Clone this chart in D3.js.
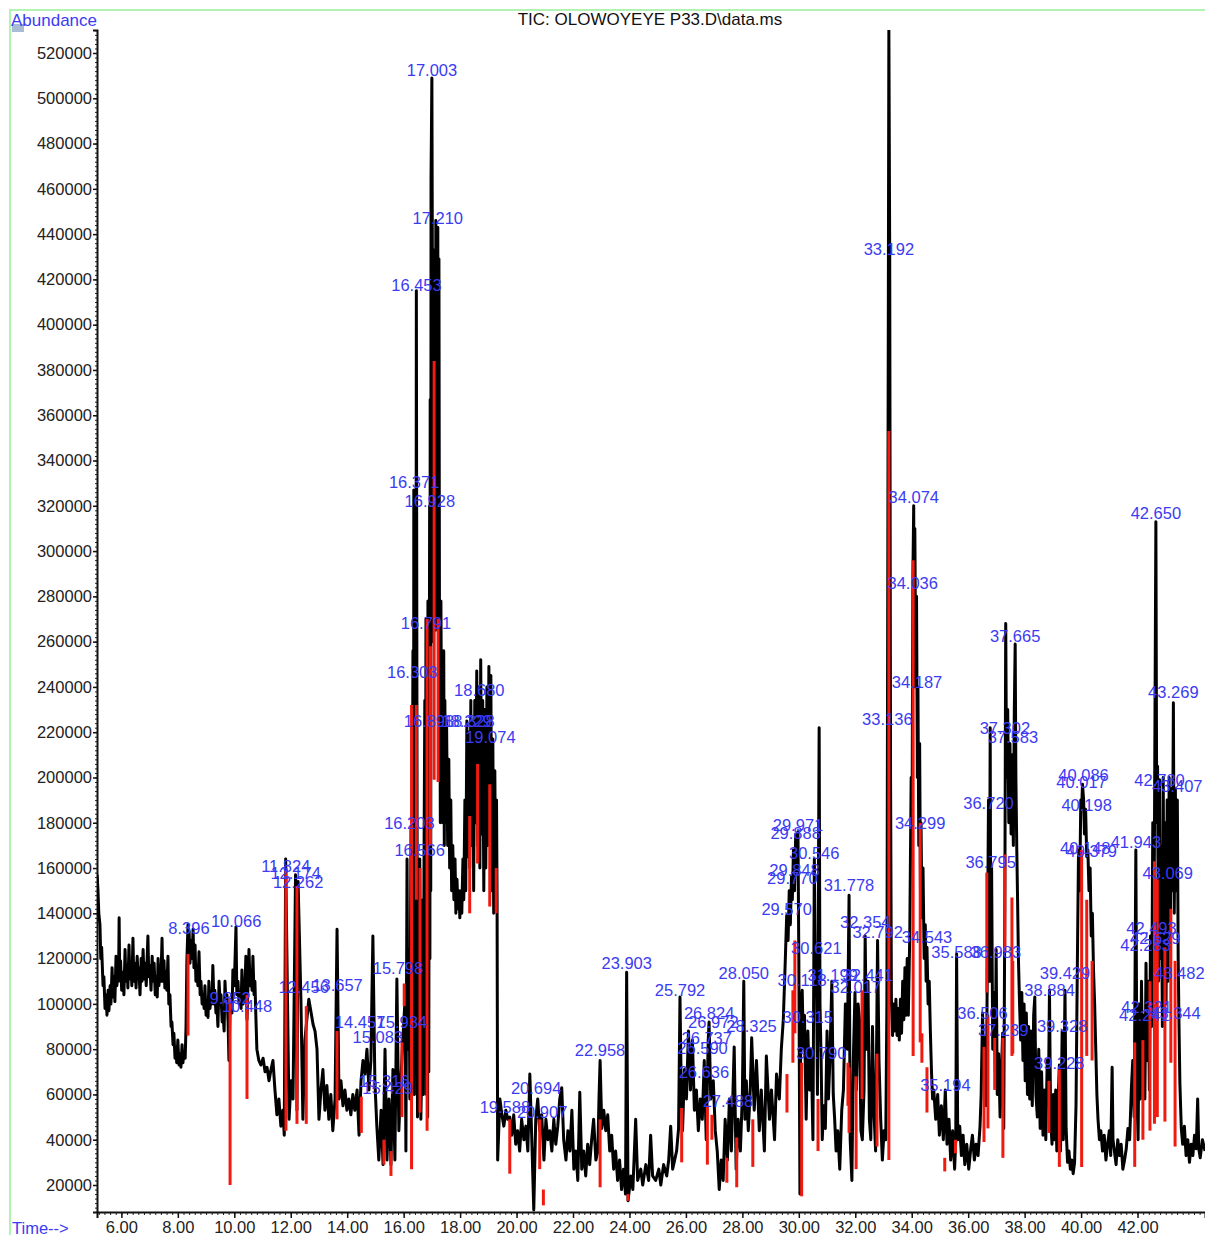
<!DOCTYPE html>
<html>
<head>
<meta charset="utf-8">
<script src="https://cdn.jsdelivr.net/npm/d3@7"></script>
<style>
  body { margin: 0; background: #fff; }
  svg { display: block; font-family: "Liberation Sans", Arial, sans-serif; }
</style>
</head>
<body>
<svg id="chart" width="1205" height="1235"></svg>
<script>
const chartTitle = "TIC: OLOWOYEYE P33.D\\data.ms";
const yAxisLabel = "Abundance";
const xAxisLabel = "Time-->";

const xTickValues = [6, 8, 10, 12, 14, 16, 18, 20, 22, 24, 26, 28, 30, 32, 34, 36, 38, 40, 42];
const yTickValues = [20000, 40000, 60000, 80000, 100000, 120000, 140000, 160000, 180000, 200000,
  220000, 240000, 260000, 280000, 300000, 320000, 340000, 360000, 380000, 400000,
  420000, 440000, 460000, 480000, 500000, 520000];

// TIC trace: [time (min), abundance / 1000]
const tic05to11 = [
  [5.14,157],[5.17,150],[5.20,140],[5.24,135],[5.27,120],[5.30,125],[5.35,108],[5.38,112],[5.42,98],[5.45,104],
  [5.49,95],[5.53,106],[5.56,97],[5.60,108],[5.63,100],[5.67,116],[5.70,103],[5.74,112],[5.77,101],[5.81,121],
  [5.84,108],[5.88,116],[5.90,110],[5.92,138],[5.94,112],[5.97,119],[6.01,106],[6.06,114],[6.09,104],[6.13,124],
  [6.16,110],[6.20,117],[6.23,107],[6.27,126],[6.30,111],[6.34,118],[6.37,108],[6.41,129],[6.44,110],[6.48,118],
  [6.52,107],[6.56,121],[6.59,112],[6.62,116],[6.66,104],[6.70,120],[6.73,110],[6.77,124],[6.80,111],[6.84,118],
  [6.88,108],[6.94,130],[6.97,112],[7.01,117],[7.05,106],[7.09,121],[7.12,110],[7.16,118],[7.20,104],[7.23,112],
  [7.27,103],[7.30,120],[7.33,108],[7.37,116],[7.40,110],[7.44,129],[7.47,110],[7.51,119],[7.54,107],[7.58,114],
  [7.61,106],[7.65,121],[7.68,100],[7.72,104],[7.76,90],[7.79,92],[7.83,82],[7.86,87],[7.90,76],[7.93,80],
  [7.96,74],[8.00,84],[8.04,73],[8.08,78],[8.11,72],[8.15,82],[8.18,74],[8.22,79],[8.26,76],[8.29,90],
  [8.32,119],[8.36,135],[8.38,120],[8.40,132],[8.43,118],[8.46,128],[8.50,120],[8.54,133],[8.57,116],[8.61,126],
  [8.64,110],[8.68,116],[8.71,108],[8.75,123],[8.79,104],[8.82,110],[8.86,100],[8.89,104],[8.93,98],[8.96,108],
  [9.00,95],[9.03,100],[9.07,94],[9.10,110],[9.14,98],[9.17,103],[9.21,100],[9.24,117],[9.28,100],[9.31,106],
  [9.35,96],[9.39,98],[9.42,90],[9.46,110],[9.50,100],[9.53,104],[9.57,92],[9.60,96],[9.64,88],[9.67,110],
  [9.71,99],[9.74,104],[9.78,92],[9.81,75],[9.85,98],[9.88,102],[9.92,96],[9.95,115],[10.00,108],[10.06,134],
  [10.09,104],[10.13,110],[10.17,100],[10.20,104],[10.24,98],[10.27,115],[10.31,100],[10.34,102],[10.38,108],[10.41,121],
  [10.45,93],[10.49,110],[10.52,124],[10.56,108],[10.59,115],[10.63,106],[10.66,121],[10.70,104],[10.73,110],[10.77,92],
  [10.80,80]
];

const tic11to16 = [
  [10.87,75],[10.94,73],[11.02,76],[11.09,70],[11.16,72],[11.23,66],[11.30,71],[11.37,75],[11.44,62],[11.51,51],
  [11.58,58],[11.65,46],[11.72,53],[11.77,42],[11.82,164],[11.94,49],[12.01,66],[12.08,58],[12.17,157],[12.22,53],
  [12.26,154],[12.36,102],[12.43,49],[12.50,84],[12.57,93],[12.64,102],[12.71,97],[12.79,91],[12.86,88],[12.93,80],
  [13.00,49],[13.07,62],[13.14,71],[13.21,53],[13.28,64],[13.35,49],[13.42,60],[13.49,44],[13.57,58],[13.64,133],
  [13.71,58],[13.78,66],[13.85,55],[13.92,62],[13.99,53],[14.06,58],[14.13,51],[14.20,60],[14.27,53],[14.35,62],
  [14.42,42],[14.49,66],[14.56,75],[14.63,69],[14.70,80],[14.77,62],[14.84,75],[14.91,130],[14.98,66],[15.05,46],
  [15.12,31],[15.20,53],[15.27,29],[15.34,80],[15.41,31],[15.48,58],[15.55,29],[15.62,71],[15.69,31],[15.76,111],
  [15.83,44],[15.90,66],[15.97,84]
];

const tic16to20 = [
  [16.05,102],[16.08,35],[16.12,164],[16.15,80],[16.19,124],[16.22,58],[16.26,177],[16.29,119],[16.33,256],[16.35,80],
  [16.36,327],[16.38,60],[16.40,234],[16.43,90],[16.45,415],[16.47,234],[16.49,50],[16.52,146],[16.54,102],[16.57,164],
  [16.61,49],[16.65,80],[16.68,146],[16.70,60],[16.72,159],[16.75,234],[16.77,90],[16.79,270],[16.81,60],[16.83,225],
  [16.85,50],[16.86,278],[16.89,70],[16.92,320],[16.93,120],[16.94,367],[16.96,150],[16.97,464],[17.00,509],[17.03,367],
  [17.05,260],[17.07,433],[17.09,270],[17.11,411],[17.13,265],[17.14,446],[17.16,270],[17.18,437],[17.20,280],[17.21,443],
  [17.23,270],[17.25,429],[17.27,260],[17.28,252],[17.30,180],[17.32,278],[17.35,200],[17.37,234],[17.39,180],[17.42,256],
  [17.44,170],[17.46,234],[17.49,180],[17.52,225],[17.56,170],[17.60,208],[17.63,160],[17.67,190],[17.70,150],[17.74,170],
  [17.78,146],[17.82,164],[17.85,140],[17.89,155],[17.92,142],[17.96,150],[17.99,138],[18.03,150],[18.06,140],[18.10,164],
  [18.13,146],[18.17,190],[18.20,150],[18.24,225],[18.27,165],[18.31,220],[18.34,160],[18.38,234],[18.41,170],[18.45,225],
  [18.48,150],[18.52,234],[18.55,180],[18.59,247],[18.62,170],[18.66,240],[18.70,160],[18.73,252],[18.77,175],[18.80,234],
  [18.84,150],[18.88,230],[18.91,160],[18.95,240],[18.98,170],[19.02,249],[19.05,175],[19.09,245],[19.12,150],[19.16,217],
  [19.19,140],[19.23,203],[19.26,150],[19.29,190],[19.31,146],[19.33,31]
];

const tic20to29 = [
  [19.41,58],[19.48,51],[19.55,46],[19.62,53],[19.69,49],[19.76,50],[19.83,42],[19.90,51],[19.97,38],[20.04,44],
  [20.11,35],[20.18,49],[20.26,40],[20.33,46],[20.40,35],[20.47,69],[20.54,40],[20.61,9],[20.68,49],[20.75,58],
  [20.82,44],[20.89,51],[20.97,31],[21.04,49],[21.11,40],[21.18,44],[21.25,35],[21.32,49],[21.39,38],[21.46,46],
  [21.53,58],[21.60,63],[21.67,40],[21.75,31],[21.82,44],[21.89,35],[21.96,53],[22.03,27],[22.10,35],[22.17,22],
  [22.24,61],[22.31,27],[22.38,35],[22.45,24],[22.52,38],[22.59,29],[22.66,40],[22.73,49],[22.81,31],[22.88,35],
  [22.92,58],[22.96,75],[23.02,45],[23.09,53],[23.16,44],[23.23,51],[23.30,35],[23.37,42],[23.44,27],[23.51,35],
  [23.58,22],[23.65,31],[23.72,18],[23.79,27],[23.86,16],[23.90,114],[23.95,13],[24.05,24],[24.12,18],[24.22,49],
  [24.29,22],[24.40,27],[24.47,20],[24.58,29],[24.68,22],[24.75,42],[24.82,24],[24.93,22],[25.04,27],[25.11,20],
  [25.21,29],[25.32,24],[25.39,31],[25.46,46],[25.53,27],[25.60,31],[25.67,35],[25.74,45],[25.79,103],[25.83,66],
  [25.88,44],[25.95,71],[26.02,58],[26.09,88],[26.16,62],[26.23,84],[26.30,53],[26.37,62],[26.44,44],[26.51,58],
  [26.58,49],[26.65,75],[26.72,40],[26.79,84],[26.82,92],[26.88,58],[26.97,66],[27.04,44],[27.11,35],[27.18,18],
  [27.25,31],[27.32,22],[27.39,49],[27.47,31],[27.54,58],[27.61,35],[27.71,81],[27.78,27],[27.85,49],[27.93,35],
  [28.00,60],[28.05,110],[28.09,49],[28.14,66],[28.21,44],[28.28,62],[28.33,85],[28.42,53],[28.50,75],[28.60,44],
  [28.67,62],[28.78,35],[28.85,77],[28.96,49],[29.03,62],[29.14,40],[29.21,69],[29.31,58],[29.38,80],[29.45,93]
];

const tic29to36 = [
  [29.52,119],[29.57,139],[29.62,128],[29.66,150],[29.70,135],[29.74,156],[29.77,146],[29.81,168],[29.85,150],[29.89,175],
  [29.93,158],[29.97,176],[30.00,120],[30.04,16],[30.07,100],[30.12,106],[30.16,80],[30.20,95],[30.26,49],[30.32,88],
  [30.38,62],[30.44,80],[30.50,40],[30.55,164],[30.58,110],[30.62,122],[30.66,60],[30.72,222],[30.75,100],[30.79,75],
  [30.83,40],[30.88,55],[30.94,45],[31.00,88],[31.05,58],[31.10,75],[31.17,110],[31.22,60],[31.27,49],[31.32,35],
  [31.38,44],[31.45,27],[31.52,53],[31.58,62],[31.65,100],[31.72,80],[31.78,148],[31.82,40],[31.88,22],[31.93,75],
  [31.99,105],[32.04,62],[32.10,100],[32.15,93],[32.20,44],[32.25,40],[32.31,62],[32.35,130],[32.40,80],[32.45,110],
  [32.50,49],[32.55,40],[32.61,90],[32.66,53],[32.72,35],[32.79,128],[32.84,75],[32.90,49],[32.96,31],[33.02,44],
  [33.08,40],[33.12,100],[33.14,222],[33.17,400],[33.19,530],[33.22,430],[33.25,200],[33.28,102],[33.32,86],[33.36,100],
  [33.40,88],[33.44,102],[33.48,86],[33.52,98],[33.56,84],[33.60,102],[33.64,87],[33.68,110],[33.72,93],[33.76,116],
  [33.80,95],[33.84,120],[33.88,95],[33.93,130],[33.98,200],[34.01,170],[34.04,287],[34.07,320],[34.09,240],[34.11,310],
  [34.14,250],[34.17,280],[34.20,200],[34.22,240],[34.25,170],[34.28,215],[34.31,150],[34.33,180],[34.36,138],[34.40,160],
  [34.44,120],[34.48,135],[34.51,110],[34.54,125],[34.58,100],[34.62,110],[34.66,88],[34.70,70],[34.74,58],[34.78,62],
  [34.85,49],[34.92,60],[34.98,42],[35.05,55],[35.12,40],[35.19,62],[35.25,38],[35.32,49],[35.38,31],[35.45,44],
  [35.52,27],[35.56,40],[35.59,122],[35.63,40],[35.70,46],[35.76,33],[35.82,42],[35.88,29],[35.95,38],[36.02,27],
  [36.09,36],[36.15,42],[36.22,31],[36.28,38],[36.35,33],[36.42,46]
];

const tic36to44 = [
  [36.46,60],[36.51,96],[36.55,70],[36.60,85],[36.64,55],[36.68,120],[36.72,190],[36.75,110],[36.78,222],[36.80,110],
  [36.83,160],[36.87,80],[36.92,105],[36.96,70],[36.99,124],[37.03,60],[37.08,78],[37.13,50],[37.18,70],[37.22,87],
  [37.26,45],[37.30,150],[37.33,268],[37.36,200],[37.40,230],[37.44,180],[37.48,215],[37.52,175],[37.56,210],[37.60,170],
  [37.635,230],[37.665,259],[37.69,200],[37.72,170],[37.75,146],[37.78,120],[37.82,100],[37.86,84],[37.90,105],[37.94,75],
  [37.98,100],[38.02,66],[38.06,96],[38.10,60],[38.14,90],[38.18,58],[38.22,88],[38.27,55],[38.32,95],[38.36,103],
  [38.40,60],[38.45,50],[38.50,80],[38.55,45],[38.60,70],[38.65,42],[38.70,62],[38.75,40],[38.80,75],[38.84,55],
  [38.88,106],[38.92,50],[38.97,38],[39.02,60],[39.06,40],[39.10,62],[39.14,35],[39.18,55],[39.23,73],[39.27,35],
  [39.33,88],[39.37,40],[39.43,106],[39.47,45],[39.52,30],[39.57,35],[39.62,27],[39.67,31],[39.72,25],[39.77,30],
  [39.82,55],[39.87,120],[39.91,168],[39.95,150],[39.99,190],[40.02,186],[40.05,197],[40.09,190],[40.12,175],[40.16,186],
  [40.20,165],[40.24,168],[40.28,150],[40.32,160],[40.36,130],[40.40,140],[40.44,115],[40.48,100],[40.52,80],[40.56,60],
  [40.60,49],[40.65,40],[40.70,44],[40.76,35],[40.82,42],[40.88,31],[40.94,38],[41.00,44],[41.05,33],[41.10,72],
  [41.13,40],[41.18,35],[41.24,29],[41.30,40],[41.36,33],[41.42,38],[41.48,27],[41.54,31],[41.60,36],[41.66,45],
  [41.72,40],[41.78,62],[41.83,75],[41.88,50],[41.94,168],[41.98,60],[42.02,40],[42.06,100],[42.10,58],[42.14,110],
  [42.18,70],[42.22,95],[42.26,58],[42.30,118],[42.34,75],[42.38,110],[42.42,62],[42.46,130],[42.50,90],[42.54,180],
  [42.58,120],[42.61,205],[42.65,313],[42.68,180],[42.71,205],[42.74,110],[42.78,199],[42.81,120],[42.84,170],[42.88,90],
  [42.91,200],[42.94,120],[42.98,180],[43.01,100],[43.05,190],[43.08,110],[43.12,200],[43.16,130],[43.20,195],[43.235,150],
  [43.27,233],[43.30,140],[43.34,195],[43.37,150],[43.41,190],[43.44,120],[43.47,90],[43.50,65],[43.55,45],[43.60,38],
  [43.66,46],[43.72,33],[43.78,40],[43.84,30],[43.90,38],[43.96,33],[44.02,42],[44.08,36],[44.13,58],[44.17,36],
  [44.22,32],[44.30,40],[44.39,35]
];

// red integration marks: [time, top / 1000, bottom / 1000]
const redMarks = [
  [8.36,122,86],[9.85,102,20],[10.45,104,58],[11.83,159,44],[12.22,152,47],[12.55,99,47],[13.64,88,49],
  [14.50,59,43],[15.30,40,29],[15.55,35,24],[15.94,83,50],[16.02,109,99],[16.28,232,27],[16.45,232,146],
  [16.58,160,52],[16.83,270,44],[16.95,258,170],[17.08,384,199],[17.22,270,198],[18.34,183,140],[18.62,206,162],
  [19.05,197,143],[19.28,160,140],[19.76,49,25],[20.82,49,27],[20.95,18,11],[22.96,49,19],[23.95,16,13],
  [25.85,54,30],[26.76,55,29],[26.92,51,40],[27.45,32,21],[27.80,41,19],[28.37,49,28],[29.58,69,52],
  [29.79,106,74],[29.86,128,87],[30.10,74,15],[30.68,58,35],[31.74,74,55],[31.78,72,43],[32.03,68,27],
  [32.24,106,58],[32.77,78,37],[33.19,353,31],[34.05,296,77],[34.30,180,83],[34.36,87,74],[34.54,72,52],
  [35.17,32,26],[35.55,40,34],[36.56,81,39],[36.66,158,105],[36.70,95,45],[36.94,85,62],[37.23,85,32],
  [37.30,166,123],[37.55,147,77],[37.58,119,78],[38.86,66,43],[39.23,71,28],[40.02,168,28],[40.20,146,77],
  [40.39,119,75],[41.90,83,28],[42.19,84,40],[42.44,110,44],[42.60,163,47],[42.70,155,50],[42.97,125,48],
  [43.18,142,74],[43.33,119,37]
];

// peak labels: [retention time text, label height / 1000]
const peakLabels = [
  ["8.396",133.5],["10.066",136.6],["9.852",102.6],["10.448",99],["11.824",161],["12.174",158],["12.262",154],
  ["12.456",107.5],["13.657",108.3],["14.457",92],["15.934",92],["15.083",85.4],["15.798",115.8],["15.316",66],
  ["15.429",62.8],["16.203",180],["16.566",168],["16.303",246.6],["16.898",225],["16.791",268],["16.371",330.5],
  ["16.928",322],["16.453",417.5],["17.210",447],["17.003",512.5],["18.229",225],["18.328",225],["18.680",238.6],
  ["19.074",218],["19.588",54.5],["20.694",62.8],["20.907",52.2],["22.958",79.6],["23.903",118],["25.792",106],
  ["26.824",96],["26.972",92],["26.737",85],["26.590",80.5],["26.636",70],["27.488",57],["28.050",113.6],
  ["28.325",90],["29.971",179],["29.888",175.5],["30.546",166.6],["29.848",159],["29.770",155.6],["29.570",142],
  ["30.621",124.7],["30.118",110.5],["31.199",112.8],["32.017",107.5],["32.441",112.8],["30.315",94],["30.790",78.3],
  ["31.778",152.5],["32.354",136],["32.792",131.8],["33.136",226],["33.192",433.4],["34.074",324],["34.036",286],
  ["34.187",242],["34.299",180],["34.543",129.5],["35.588",123],["35.194",64],["36.983",123],["36.720",188.7],
  ["36.795",162.7],["36.506",96],["37.239",88.5],["37.302",222],["37.583",218],["37.665",262.5],["38.884",106],
  ["39.429",113.6],["39.328",90],["39.228",74],["40.086",201],["40.017",198],["40.198",188],["40.148",169],
  ["40.379",167.5],["41.943",171.5],["42.650",316.8],["43.269",237.8],["42.780",199],["43.407",196],["43.069",158],
  ["42.493",133.5],["42.629",129],["42.283",126],["43.482",113.6],["42.321",98.6],["42.241",95],["43.344",96]
];

const trace = [].concat(tic05to11, tic11to16, tic16to20, tic20to29, tic29to36, tic36to44);

const svg = d3.select("#chart");
const x = d3.scaleLinear().domain([5.136, 44.39]).range([97, 1205]);
const y = d3.scaleLinear().domain([8074, 530159]).range([1212, 30]);
const K = 1000;
const labelBlue = "#3b3bf2";

// light green frame
svg.append("rect")
  .attr("x", 10).attr("y", 10).attr("width", 1210).attr("height", 1240)
  .attr("fill", "none").attr("stroke", "#b2f2b2").attr("stroke-width", 2);

svg.append("defs").append("clipPath").attr("id", "plotClip")
  .append("rect").attr("x", 97).attr("y", 30).attr("width", 1108).attr("height", 1182);

// y axis: minor then major ticks
svg.append("g").attr("transform", "translate(97,0)")
  .call(d3.axisLeft(y).tickValues(d3.range(10000, 530001, 2000)).tickSize(2).tickFormat(""))
  .call(g => g.select(".domain").remove())
  .call(g => g.selectAll("line").attr("stroke", "#222"));

svg.append("g").attr("transform", "translate(97,0)")
  .call(d3.axisLeft(y).tickValues(yTickValues).tickSize(4).tickPadding(1).tickFormat(d3.format("d")))
  .call(g => g.select(".domain").attr("stroke", "#111").attr("stroke-width", 2))
  .call(g => g.selectAll("line").attr("stroke", "#111").attr("stroke-width", 1.5))
  .call(g => g.selectAll("text").attr("fill", "#222").attr("font-size", 16.5).attr("font-family", "Liberation Sans, Arial"));

// x axis
svg.append("g").attr("transform", "translate(0,1212)")
  .call(d3.axisBottom(x).tickValues(d3.range(5.2, 44.4, 0.2)).tickSize(3).tickFormat(""))
  .call(g => g.select(".domain").remove())
  .call(g => g.selectAll("line").attr("stroke", "#222"));

svg.append("g").attr("transform", "translate(0,1212)")
  .call(d3.axisBottom(x).tickValues(xTickValues).tickSize(6).tickPadding(3).tickFormat(d => d.toFixed(2)))
  .call(g => g.select(".domain").attr("stroke", "#111").attr("stroke-width", 2))
  .call(g => g.selectAll("line").attr("stroke", "#111").attr("stroke-width", 1.5))
  .call(g => g.selectAll("text").attr("fill", "#222").attr("font-size", 16.5).attr("font-family", "Liberation Sans, Arial"));

// trace
const line = d3.line().x(d => x(d[0])).y(d => y(d[1] * K));
svg.append("path")
  .datum(trace)
  .attr("clip-path", "url(#plotClip)")
  .attr("d", line)
  .attr("fill", "none")
  .attr("stroke", "#000")
  .attr("stroke-width", 3)
  .attr("stroke-linejoin", "round");

// red marks
svg.append("g").attr("clip-path", "url(#plotClip)")
  .selectAll("line").data(redMarks).join("line")
  .attr("x1", d => x(d[0])).attr("x2", d => x(d[0]))
  .attr("y1", d => y(d[1] * K)).attr("y2", d => y(d[2] * K))
  .attr("stroke", "#f01a10").attr("stroke-width", 3);

// peak labels
svg.append("g").selectAll("text").data(peakLabels).join("text")
  .attr("x", d => x(parseFloat(d[0])))
  .attr("y", d => y(d[1] * K))
  .attr("dy", "0.36em")
  .attr("text-anchor", "middle")
  .attr("font-size", 16.5)
  .attr("fill", labelBlue)
  .text(d => d[0]);

// title and axis captions
svg.append("text").attr("x", 650).attr("y", 25).attr("text-anchor", "middle")
  .attr("font-size", 17).attr("fill", "#111").text(chartTitle);

svg.append("rect").attr("x", 12).attr("y", 24).attr("width", 12).attr("height", 8).attr("fill", "#a9bcd6");
svg.append("text").attr("x", 11).attr("y", 26).attr("font-size", 17).attr("fill", labelBlue).text(yAxisLabel);
svg.append("text").attr("x", 12).attr("y", 1234).attr("font-size", 16.5).attr("fill", labelBlue).text(xAxisLabel);
</script>
</body>
</html>
